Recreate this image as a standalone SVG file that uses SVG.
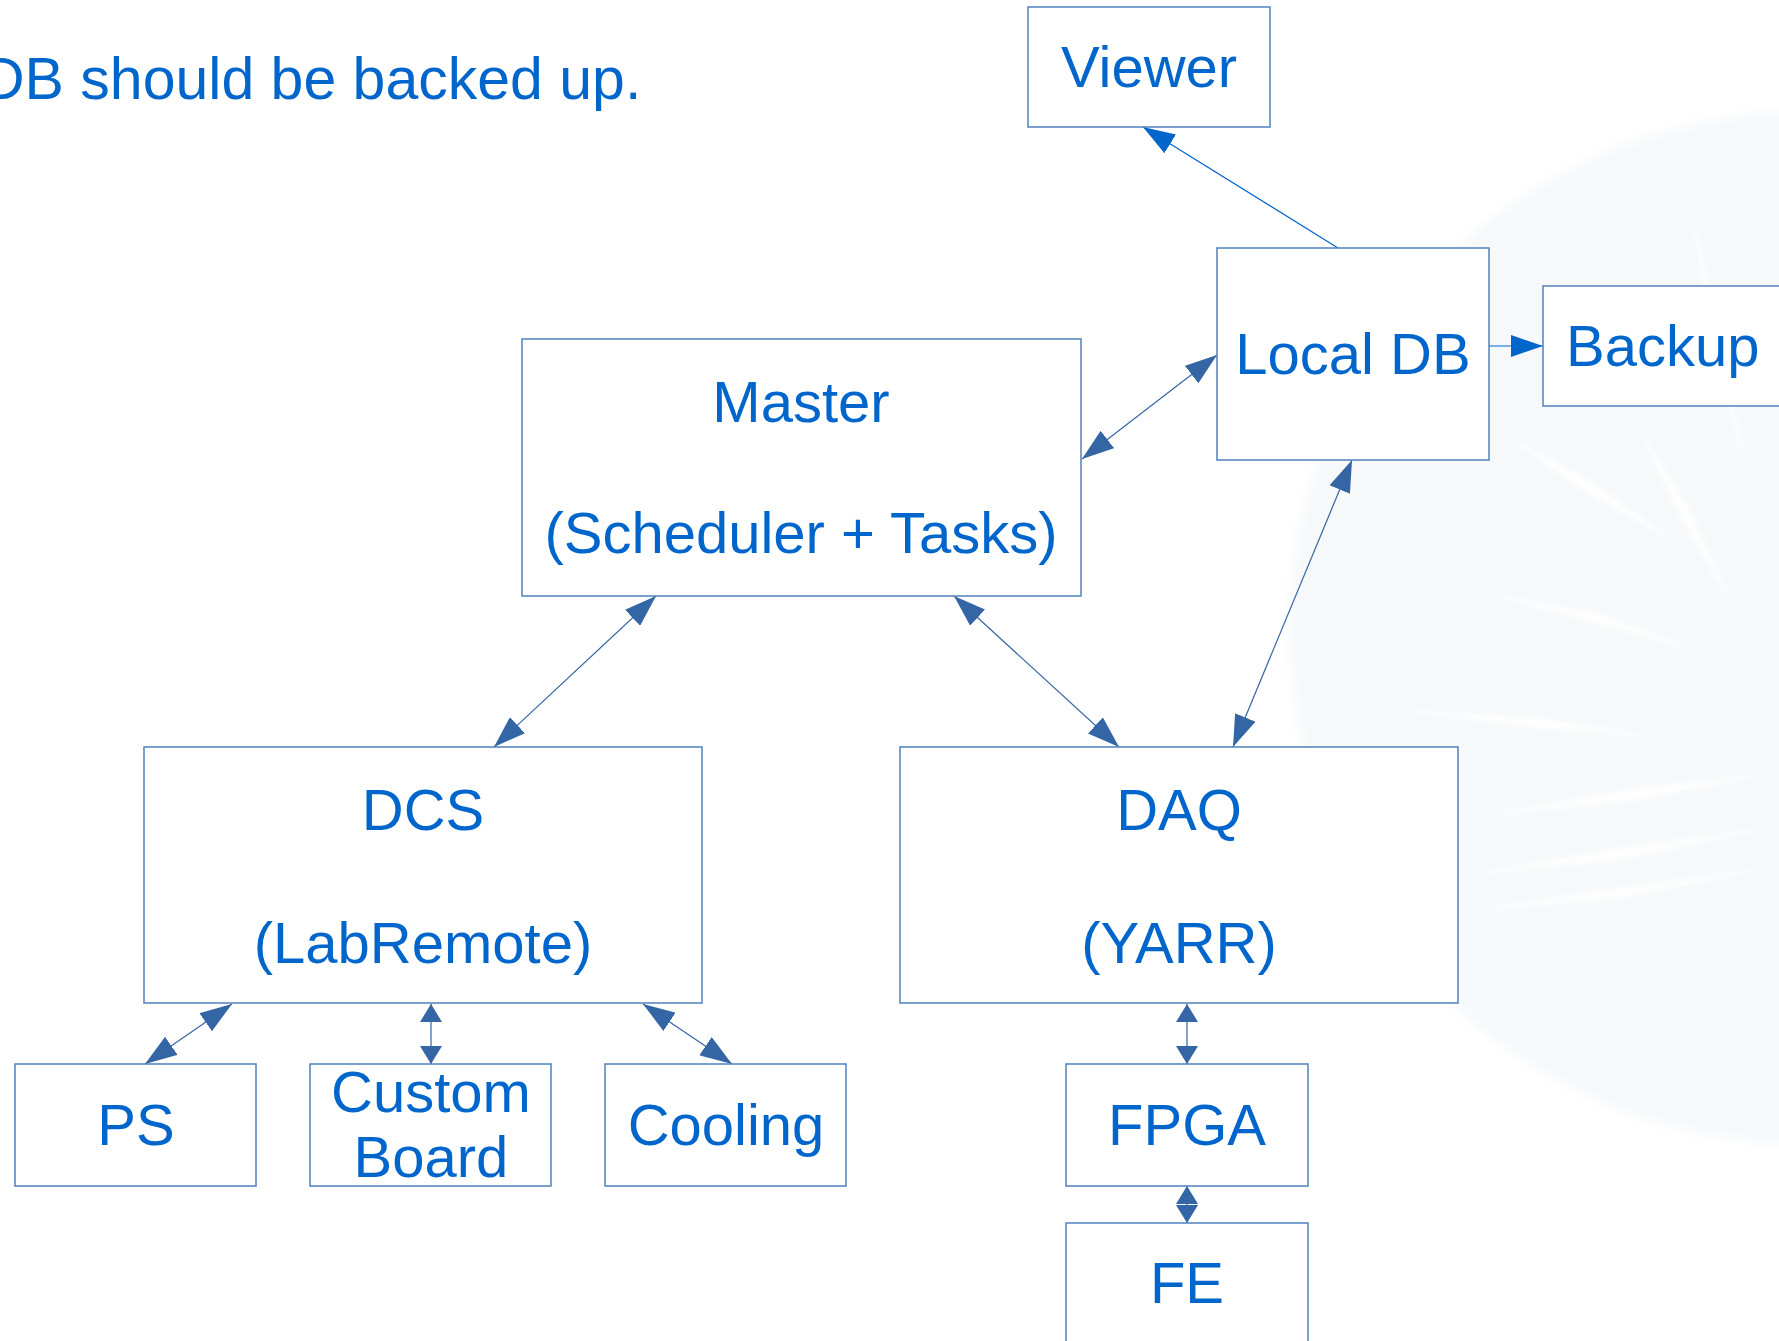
<svg xmlns="http://www.w3.org/2000/svg" width="1779" height="1341" viewBox="0 0 1779 1341">
<style>
.box{fill:#ffffff;stroke:#4f81bd;stroke-width:1.5}
.t{font-family:"Liberation Sans",Arial,sans-serif;font-size:58px;fill:#0066cc;text-anchor:middle}
.dk{stroke:#3465a4;stroke-width:1.2;fill:none}
.bl{stroke:#0066cc;stroke-width:1.2;fill:none}
.ray{fill:#ffffff;opacity:0.9}
</style>
<defs>
<marker id="aL" viewBox="0 0 32 22" markerWidth="32" markerHeight="22" refX="32" refY="11" orient="auto-start-reverse" markerUnits="userSpaceOnUse"><path d="M0,0L32,11L0,22z" fill="#3465a4"/></marker>
<marker id="aS" viewBox="0 0 18 22" markerWidth="18" markerHeight="22" refX="18" refY="11" orient="auto-start-reverse" markerUnits="userSpaceOnUse"><path d="M0,0L18,11L0,22z" fill="#3465a4"/></marker>
<marker id="aB" viewBox="0 0 32 22" markerWidth="32" markerHeight="22" refX="32" refY="11" orient="auto" markerUnits="userSpaceOnUse"><path d="M0,0L32,11L0,22z" fill="#0066cc"/></marker>
<filter id="soft" x="-10%" y="-10%" width="120%" height="120%"><feGaussianBlur stdDeviation="2.5"/></filter>
<filter id="softer" x="-10%" y="-10%" width="120%" height="120%"><feGaussianBlur stdDeviation="6"/></filter>
</defs>
<rect x="0" y="0" width="1779" height="1341" fill="#ffffff"/>
<g id="watermark">
<circle cx="1806" cy="628" r="516" fill="#f6f8fa" filter="url(#softer)"/>
<g filter="url(#soft)">
<polygon class="ray" points="1475,590 1600,614 1702,652 1598,624"/>
<polygon class="ray" points="1384,709 1540,718 1668,738 1540,728"/>
<polygon class="ray" points="1475,817 1640,788 1779,772 1640,800"/>
<polygon class="ray" points="1498,431 1592,482 1679,545 1586,492"/>
<polygon class="ray" points="1634,420 1690,510 1736,613 1680,516"/>
<polygon class="ray" points="1690,204 1722,336 1747,477 1712,340"/>
<polygon class="ray" points="1459,876 1620,848 1779,826 1620,860"/>
<polygon class="ray" points="1459,912 1620,888 1779,866 1620,898"/>
</g>
</g>
<text id="title" x="-18" y="99" font-family="Liberation Sans, Arial, sans-serif" font-size="59" fill="#0066cc">DB should be backed up.</text>
<g id="connectors">
<line class="dk" x1="656" y1="596" x2="494" y2="747" marker-start="url(#aL)" marker-end="url(#aL)"/>
<line class="dk" x1="954" y1="596" x2="1119" y2="747" marker-start="url(#aL)" marker-end="url(#aL)"/>
<line class="dk" x1="1233" y1="747" x2="1352" y2="460" marker-start="url(#aL)" marker-end="url(#aL)"/>
<line class="dk" x1="1082" y1="459" x2="1217" y2="355" marker-start="url(#aL)" marker-end="url(#aL)"/>
<line class="bl" x1="1338" y1="248" x2="1143" y2="127" marker-end="url(#aB)"/>
<line class="bl" x1="1489" y1="346" x2="1543" y2="346" marker-end="url(#aB)"/>
<line class="dk" x1="232" y1="1004" x2="145" y2="1064" marker-start="url(#aL)" marker-end="url(#aL)"/>
<line class="dk" x1="431" y1="1004" x2="431" y2="1064" marker-start="url(#aS)" marker-end="url(#aS)"/>
<line class="dk" x1="643" y1="1004" x2="732" y2="1064" marker-start="url(#aL)" marker-end="url(#aL)"/>
<line class="dk" x1="1187" y1="1004" x2="1187" y2="1064" marker-start="url(#aS)" marker-end="url(#aS)"/>
<line class="dk" x1="1187" y1="1186" x2="1187" y2="1223" marker-start="url(#aS)" marker-end="url(#aS)"/>
</g>
<g id="viewer"><rect class="box" x="1028" y="7" width="242" height="120"/><text class="t" x="1149" y="87">Viewer</text></g>
<g id="localdb"><rect class="box" x="1217" y="248" width="272" height="212"/><text class="t" x="1353" y="374">Local DB</text></g>
<g id="backup"><rect class="box" x="1543" y="286" width="260" height="120"/><text class="t" x="1566" y="366" style="text-anchor:start">Backup</text></g>
<g id="master"><rect class="box" x="522" y="339" width="559" height="257"/><text class="t" x="801" y="422">Master</text><text class="t" x="801" y="553">(Scheduler + Tasks)</text></g>
<g id="dcs"><rect class="box" x="144" y="747" width="558" height="256"/><text class="t" x="423" y="830">DCS</text><text class="t" x="423" y="963">(LabRemote)</text></g>
<g id="daq"><rect class="box" x="900" y="747" width="558" height="256"/><text class="t" x="1179" y="830">DAQ</text><text class="t" x="1179" y="963">(YARR)</text></g>
<g id="ps"><rect class="box" x="15" y="1064" width="241" height="122"/><text class="t" x="136" y="1145">PS</text></g>
<g id="custom"><rect class="box" x="310" y="1064" width="241" height="122"/><text class="t" x="431" y="1112">Custom</text><text class="t" x="431" y="1177">Board</text></g>
<g id="cooling"><rect class="box" x="605" y="1064" width="241" height="122"/><text class="t" x="726" y="1145">Cooling</text></g>
<g id="fpga"><rect class="box" x="1066" y="1064" width="242" height="122"/><text class="t" x="1187" y="1145">FPGA</text></g>
<g id="fe"><rect class="box" x="1066" y="1223" width="242" height="140"/><text class="t" x="1187" y="1303">FE</text></g>
</svg>
